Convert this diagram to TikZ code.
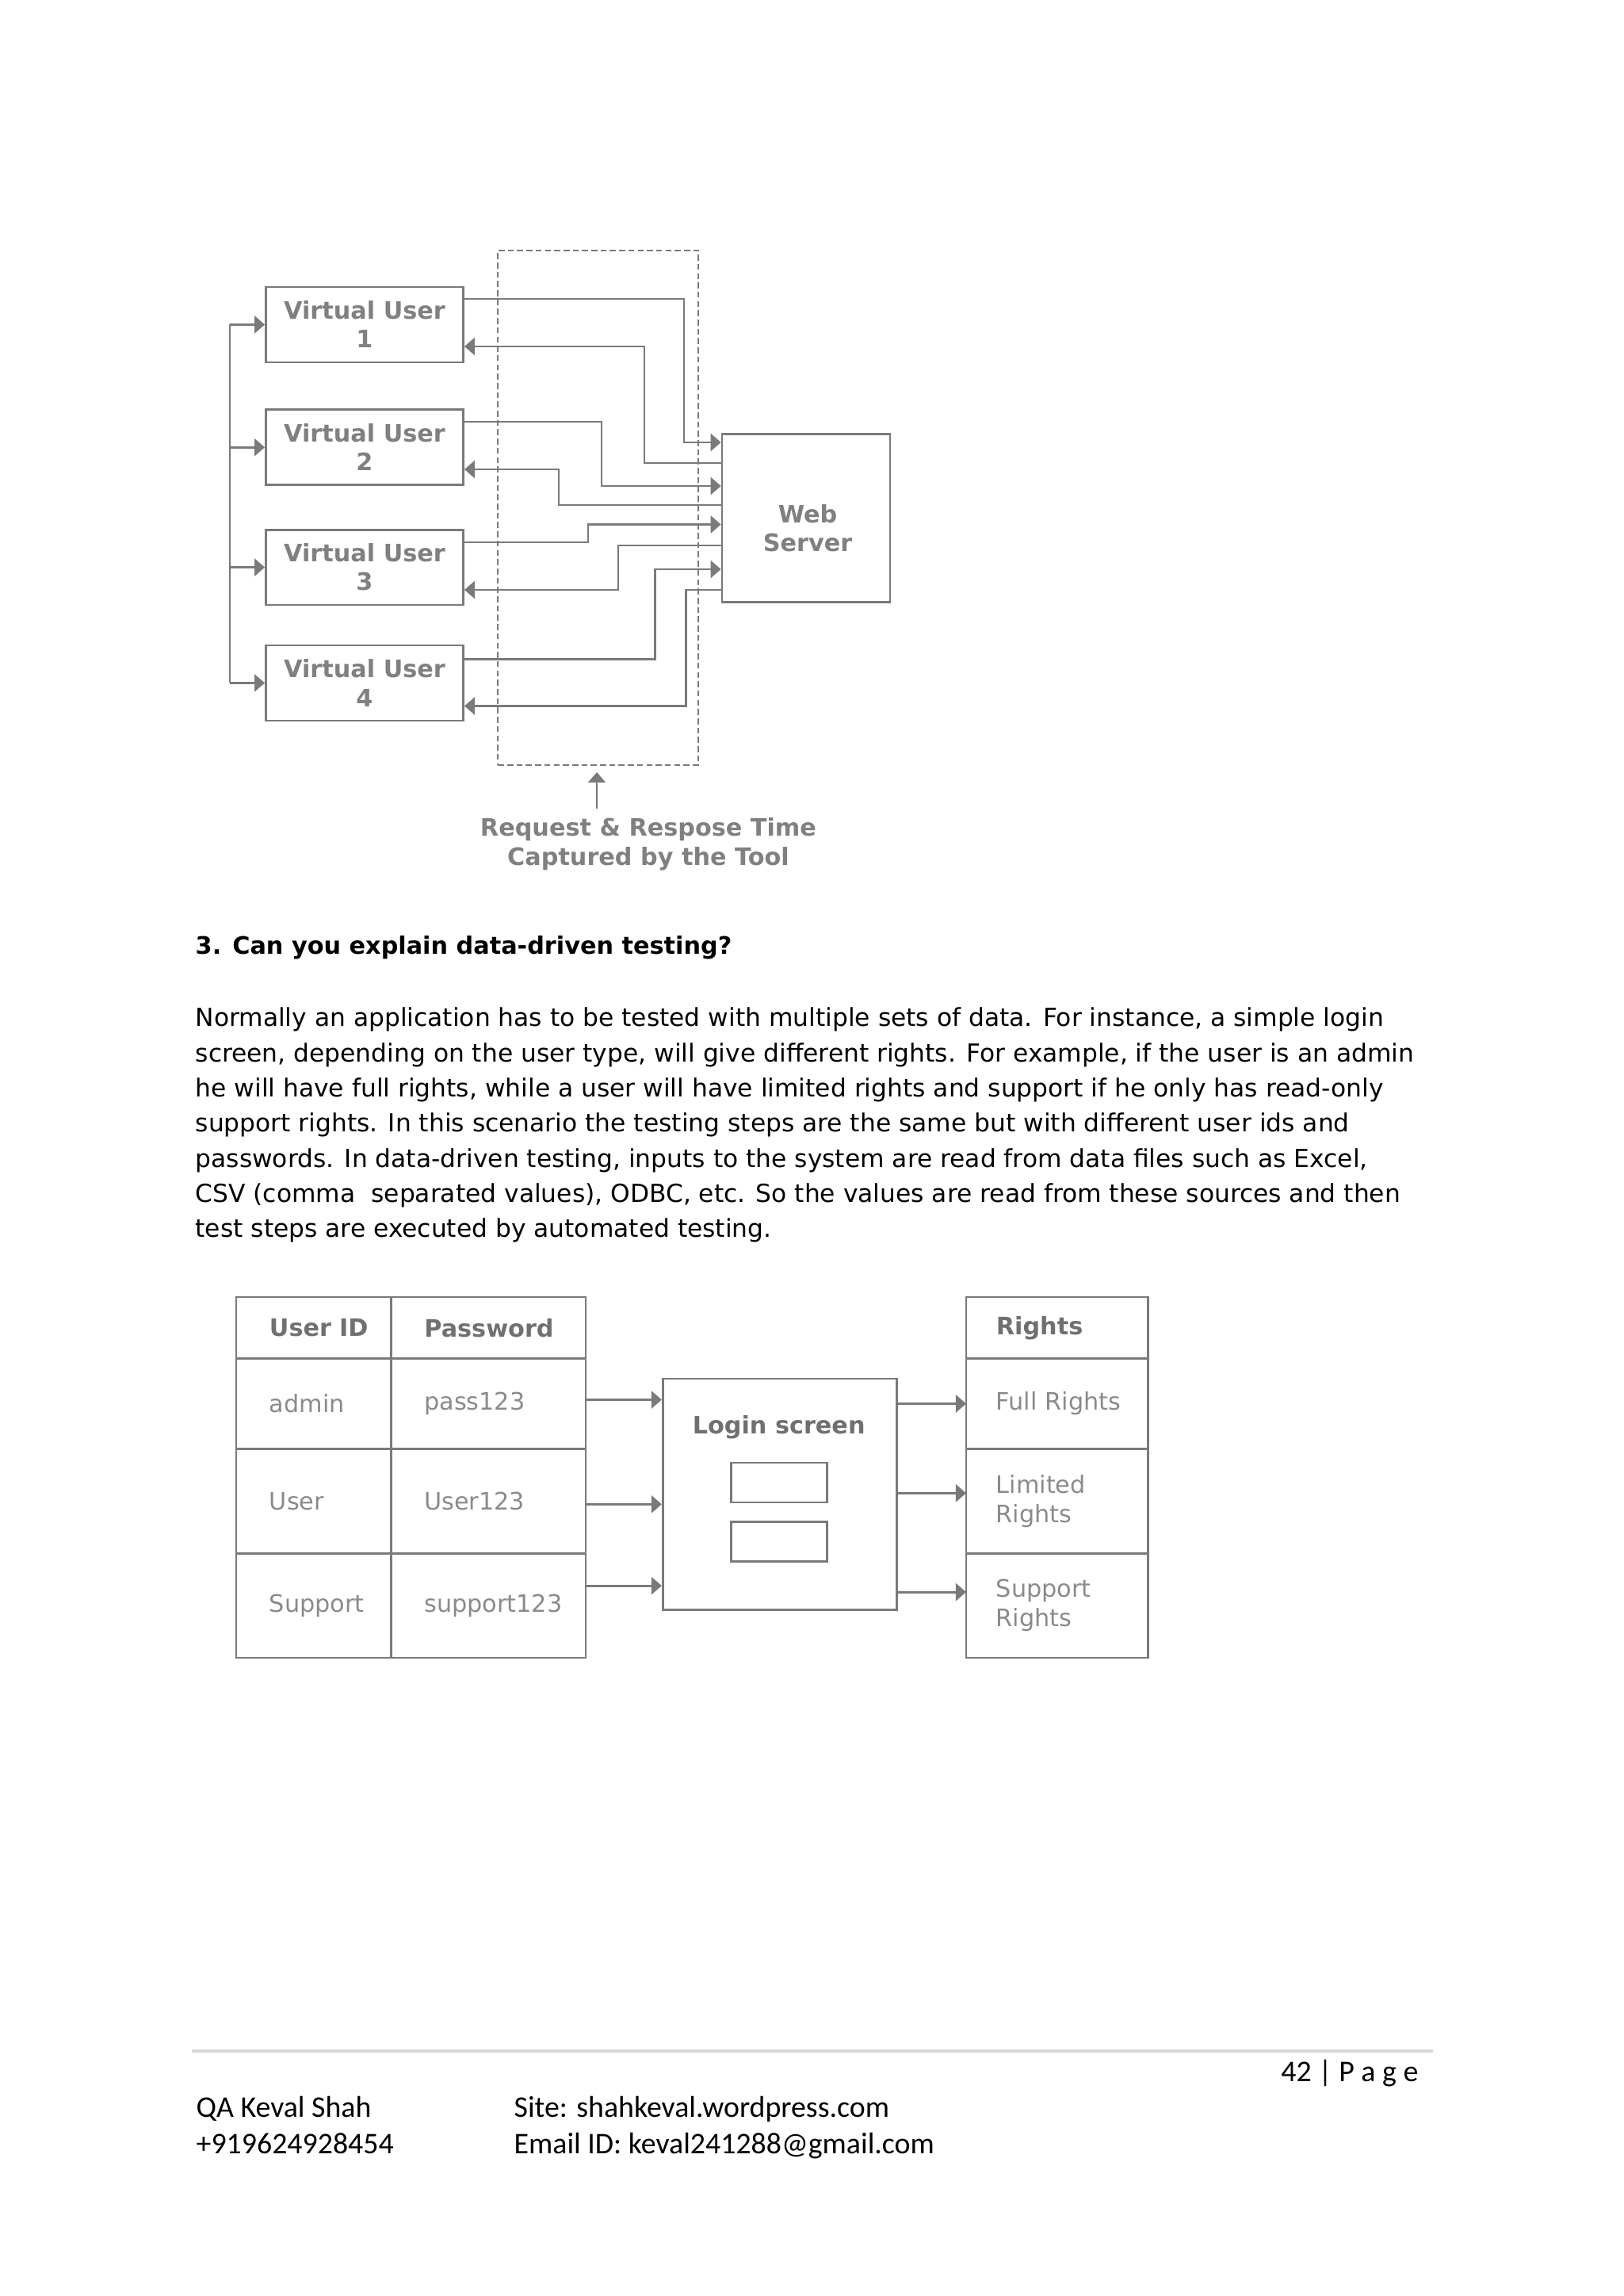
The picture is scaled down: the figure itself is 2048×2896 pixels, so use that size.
\documentclass[tikz,border=0pt]{standalone}
\usepackage{fontspec}
\setmainfont{DejaVu Sans}
\newfontfamily\footfont{Carlito}
\usetikzlibrary{arrows.meta, positioning, calc}

\definecolor{linegray}{RGB}{122,122,122}
\definecolor{txtgray}{RGB}{128,128,128}
\definecolor{headtext}{RGB}{112,112,112}
\definecolor{celltext}{RGB}{138,138,138}
\definecolor{rulegray}{RGB}{215,215,215}

\begin{document}
\begin{tikzpicture}[x=0.29066pt, y=-0.29066pt, node distance=16pt]
        \tikzstyle{vubox} = [rectangle, draw=linegray, line width=0.8pt, minimum width=72.4pt, minimum height=27.6pt, text centered, align=center, text=txtgray, font=\fontsize{8.8}{10.5}\selectfont\bfseries]
        \tikzstyle{server} = [rectangle, draw=linegray, line width=0.8pt, minimum width=61.6pt, minimum height=61.6pt]
        \tikzstyle{capturebox} = [rectangle, draw=linegray, line width=0.6pt, dash pattern=on 2.2pt off 1.2pt, minimum width=73.45pt, minimum height=188.7pt]
        \tikzstyle{graytext} = [align=center, text=txtgray, font=\fontsize{8.8}{10.5}\selectfont\bfseries]
        \tikzstyle{line} = [draw=linegray, line width=0.8pt]
        \tikzstyle{arrow} = [line, -{Triangle[length=3.8pt, width=6.4pt]}]
        \tikzstyle{cell} = [rectangle, draw=linegray, line width=0.8pt, outer sep=0pt, inner xsep=12.2pt, inner ysep=0pt, align=left, text=celltext, font=\fontsize{8.8}{10.7}\selectfont]
        \tikzstyle{hcell} = [cell, text=headtext, font=\fontsize{8.8}{10.7}\selectfont\bfseries]
        \tikzstyle{colid} = [text width=32.4pt]
        \tikzstyle{colpw} = [text width=47pt]
        \tikzstyle{colrt} = [text width=44.7pt, inner xsep=11pt]
        \tikzstyle{rowhead} = [minimum height=22.55pt]
        \tikzstyle{rowa} = [minimum height=33.1pt]
        \tikzstyle{rowb} = [minimum height=38.3pt]
        \tikzstyle{loginbox} = [rectangle, draw=linegray, line width=0.8pt, minimum width=85.7pt, minimum height=84.8pt]
        \tikzstyle{field} = [rectangle, draw=linegray, line width=0.8pt, minimum width=35.2pt, minimum height=14.5pt]
        \tikzstyle{bodytext} = [inner sep=0pt, align=left, font=\fontsize{9.1}{12.88}\selectfont]
        \tikzstyle{foottext} = [inner sep=0pt, align=left, font=\footfont\fontsize{11}{13.5}\selectfont]

        \useasboundingbox (0,0) rectangle (2048,2896);

        % load test diagram
        \node (capture) [capturebox] at (754.7,640.4) {};
        \node (vu1) [vubox] at (460,409.4) {Virtual User\\1};
        \node (vu2) [vubox, below=16.6pt of vu1] {Virtual User\\2};
        \node (vu3) [vubox, below=15.6pt of vu2] {Virtual User\\3};
        \node (vu4) [vubox, below=14pt of vu3] {Virtual User\\4};
        \node (web) [server] at (1017,653.2) {};
        \node (webtxt) [graytext] at (1019,666) {Web\\Server};
        \node (caption) [graytext] at (818,1064.7) {Request \& Respose Time\\Captured by the Tool};

        \coordinate (bus) at (290,410);
        \draw [line] (bus |- vu1.west) -- (bus |- vu4.west);
        \foreach \n in {1,...,4}
            \draw [arrow] (bus |- vu\n.west) -- (vu\n.west);

        \draw [arrow] (vu1.east |- 0,377) -| (863,558) -- (web.west |- 0,558);
        \draw [arrow] (web.west |- 0,584) -| (813,437) -- (vu1.east |- 0,437);
        \draw [arrow] (vu2.east |- 0,532) -| (759,613) -- (web.west |- 0,613);
        \draw [arrow] (web.west |- 0,637) -| (705,592) -- (vu2.east |- 0,592);
        \draw [arrow] (vu3.east |- 0,684) -| (742,661.5) -- (web.west |- 0,661.5);
        \draw [arrow] (web.west |- 0,688) -| (780,744) -- (vu3.east |- 0,744);
        \draw [arrow] (vu4.east |- 0,831.5) -| (826.5,718) -- (web.west |- 0,718);
        \draw [arrow] (web.west |- 0,744) -| (865.5,890.5) -- (vu4.east |- 0,890.5);
        \draw [arrow] (caption.north -| 753,0) -- ($(capture.south -| 753,0)+(0,8)$);

        % question text
        \node (question) [bodytext, anchor=base west, font=\fontsize{8.8}{12.88}\selectfont\bfseries] at (246,1203) {3. Can you explain data-driven testing?};
        \node (answer) [bodytext, anchor=base west] at (246,1560.8) {Normally an application has to be tested with multiple sets of data. For instance, a simple login\\
            screen, depending on the user type, will give different rights. For example, if the user is an admin\\
            he will have full rights, while a user will have limited rights and support if he only has read-only\\
            support rights. In this scenario the testing steps are the same but with different user ids and\\
            passwords. In data-driven testing, inputs to the system are read from data files such as Excel,\\
            CSV (comma~ separated values), ODBC, etc. So the values are read from these sources and then\\
            test steps are executed by automated testing.};

        % data driven diagram
        \node (uid) [hcell, colid, rowhead, anchor=north west] at (298,1636) {User~ID};
        \node (pwd) [hcell, colpw, rowhead, right=0pt of uid] {Password};
        \node (adm) [cell, colid, rowa, below=0pt of uid] {admin};
        \node (pw1) [cell, colpw, rowa, below=0pt of pwd] {pass123};
        \node (usr) [cell, colid, rowb, below=0pt of adm] {User};
        \node (pw2) [cell, colpw, rowb, below=0pt of pw1] {User123};
        \node (sup) [cell, colid, rowb, below=0pt of usr] {Support};
        \node (pw3) [cell, colpw, rowb, below=0pt of pw2] {support123};

        \node (login) [loginbox] at (983.7,1884.9) {};
        \node (logintitle) [graytext, text=headtext] at (982.7,1800) {Login screen};
        \node (field1) [field] at (983,1870) {};
        \node (field2) [field] at (983,1944.3) {};

        \node (rgt) [hcell, colrt, rowhead, anchor=north west] at (1219,1636) {Rights};
        \node (full) [cell, colrt, rowa, below=0pt of rgt] {Full~Rights};
        \node (lim) [cell, colrt, rowb, below=0pt of full] {Limited\\Rights};
        \node (supr) [cell, colrt, rowb, below=0pt of lim] {Support\\Rights};

        \draw [arrow] ($(pw1.east)+(0,-5)$) -- ($(pw1.east -| login.west)+(0,-5)$);
        \draw [arrow] ($(pw2.east)+(0,4)$) -- ($(pw2.east -| login.west)+(0,4)$);
        \draw [arrow] ($(pw3.east)+(0,-25)$) -- ($(pw3.east -| login.west)+(0,-25)$);
        \draw [arrow] (login.east |- full.west) -- (full.west);
        \draw [arrow] ($(login.east |- lim.west)+(0,-10)$) -- ($(lim.west)+(0,-10)$);
        \draw [arrow] ($(login.east |- supr.west)+(0,-17)$) -- ($(supr.west)+(0,-17)$);

        % footer
        \draw [draw=rulegray, line width=0.9pt] (242,2587) -- (1808,2587);
        \node (pagenum) [foottext, anchor=base east] at (1790,2625) {42 | P a g e};
        \node (author) [foottext, anchor=base west] at (247,2716.7) {QA Keval Shah\\+919624928454};
        \node (contact) [foottext, anchor=base west] at (648,2716.7) {Site: shahkeval.wordpress.com\\Email ID: keval241288@gmail.com};
\end{tikzpicture}
\end{document}
